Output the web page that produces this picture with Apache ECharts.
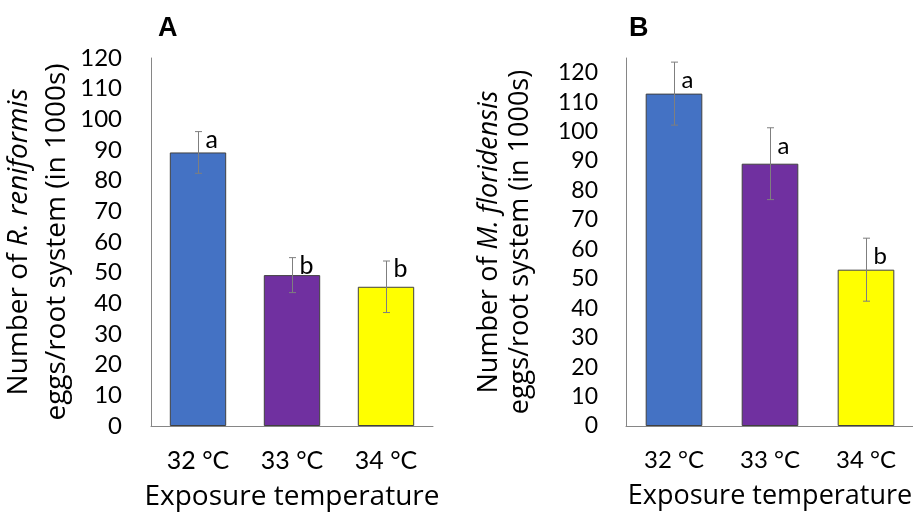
<!DOCTYPE html>
<html>
<head>
<meta charset="utf-8">
<script src="https://cdn.jsdelivr.net/npm/echarts@6/dist/echarts.min.js"></script>
<style>
html,body{margin:0;padding:0;background:#fff;}
#c{width:913px;height:512px;}
</style>
</head>
<body>
<div id="c"></div>
<script>
// ---- data ----
const categories = ['32 °C', '33 °C', '34 °C'];
const yMaxA = 120;
const yMaxB = 125;
const meanA = [89.2, 49.2, 45.4];
const errA = [6.8, 5.7, 8.4];
const lettersA = ['a', 'b', 'b'];
const meanB = [112.9, 89.1, 53.1];
const errB = [10.7, 12.2, 10.7];
const lettersB = ['a', 'a', 'b'];
const barColors = ['#4472C4', '#7030A0', '#FFFF00'];

const FONT = 'Lato';
const TFONT = 'Open Sans';
const chart = echarts.init(document.getElementById('c'), null, {renderer: 'canvas'});

function barData(means) {
  return means.map((v, i) => ({value: v, itemStyle: {color: barColors[i]}}));
}
function errData(means, errs) {
  return means.map((v, i) => [i, v - errs[i], v + errs[i]]);
}
function makeErr(letters, letterOffY, fontSize) {
  return function (params, api) {
    const x = api.value(0), lo = api.value(1), hi = api.value(2);
    const pHi = api.coord([x, hi]);
    const pLo = api.coord([x, lo]);
    const w = 3.5;
    const st = {stroke: '#7f7f7f', lineWidth: 1};
    const cx = Math.round(pHi[0]) + 0.5;
    return {
      type: 'group',
      children: [
        {type: 'line', shape: {x1: cx, y1: pHi[1], x2: cx, y2: pLo[1]}, style: st},
        {type: 'line', shape: {x1: cx - w, y1: pHi[1], x2: cx + w, y2: pHi[1]}, style: st},
        {type: 'line', shape: {x1: cx - w, y1: pLo[1], x2: cx + w, y2: pLo[1]}, style: st},
        {type: 'text', x: cx + 7, y: pHi[1] + letterOffY,
          style: {text: letters[params.dataIndex], fill: '#000', font: fontSize + 'px ' + FONT,
            textAlign: 'left', textVerticalAlign: 'middle'}}
      ]
    };
  };
}

const axisLineStyle = {show: true, lineStyle: {color: '#868686', width: 1}};

const option = {
  animation: false,
  backgroundColor: '#fff',
  title: [
    {text: 'A', left: 153, top: 10, textStyle: {fontFamily: 'Liberation Sans', fontWeight: 'bold', fontSize: 27, color: '#000'}},
    {text: 'B', left: 624, top: 10, textStyle: {fontFamily: 'Liberation Sans', fontWeight: 'bold', fontSize: 27, color: '#000'}}
  ],
  grid: [
    {left: 151, top: 58, width: 282, height: 368, containLabel: false, outerBoundsMode: 'none'},
    {left: 626, top: 58, width: 288, height: 368, containLabel: false, outerBoundsMode: 'none'}
  ],
  xAxis: [
    {type: 'category', gridIndex: 0, data: categories, axisLine: axisLineStyle, axisTick: {show: false},
      axisLabel: {color: '#000', fontFamily: FONT, fontSize: 25, margin: 22},
      name: 'Exposure temperature', nameLocation: 'middle', nameGap: 57,
      nameTextStyle: {color: '#000', fontFamily: TFONT, fontSize: 28}},
    {type: 'category', gridIndex: 1, data: categories, axisLine: axisLineStyle, axisTick: {show: false},
      axisLabel: {color: '#000', fontFamily: FONT, fontSize: 24, margin: 22},
      name: 'Exposure temperature', nameLocation: 'middle', nameGap: 57,
      nameTextStyle: {color: '#000', fontFamily: TFONT, fontSize: 27}}
  ],
  yAxis: [
    {type: 'value', gridIndex: 0, min: 0, max: yMaxA, interval: 10, splitLine: {show: false},
      axisLine: axisLineStyle, axisTick: {show: false},
      axisLabel: {color: '#000', fontFamily: FONT, fontSize: 24, margin: 29},
      name: 'Number of {i|R. reniformis}\neggs/root system (in 1000s)', nameLocation: 'middle', nameRotate: 90, nameGap: 70,
      nameTextStyle: {color: '#000', fontFamily: TFONT, fontSize: 28, lineHeight: 38, align: 'center',
        rich: {i: {fontStyle: 'italic', fontFamily: TFONT, fontSize: 28, lineHeight: 38}}}},
    {type: 'value', gridIndex: 1, min: 0, max: yMaxB, interval: 10, splitLine: {show: false},
      axisLine: axisLineStyle, axisTick: {show: false},
      axisLabel: {color: '#000', fontFamily: FONT, fontSize: 23, margin: 28, showMaxLabel: false},
      name: 'Number of {i|M. floridensis}\neggs/root system (in 1000s)', nameLocation: 'middle', nameRotate: 90, nameGap: 90,
      nameTextStyle: {color: '#000', fontFamily: TFONT, fontSize: 27, lineHeight: 31, align: 'center',
        rich: {i: {fontStyle: 'italic', fontFamily: TFONT, fontSize: 27, lineHeight: 31}}}}
  ],
  series: [
    {type: 'bar', xAxisIndex: 0, yAxisIndex: 0, data: barData(meanA), barWidth: '60%',
      itemStyle: {borderColor: '#404040', borderWidth: 1}},
    {type: 'custom', xAxisIndex: 0, yAxisIndex: 0, data: errData(meanA, errA),
      renderItem: makeErr(lettersA, 8, 25), z: 5},
    {type: 'bar', xAxisIndex: 1, yAxisIndex: 1, data: barData(meanB), barWidth: '59%',
      itemStyle: {borderColor: '#404040', borderWidth: 1}},
    {type: 'custom', xAxisIndex: 1, yAxisIndex: 1, data: errData(meanB, errB),
      renderItem: makeErr(lettersB, 18, 24), z: 5}
  ]
};
chart.setOption(option);
</script>
</body>
</html>
